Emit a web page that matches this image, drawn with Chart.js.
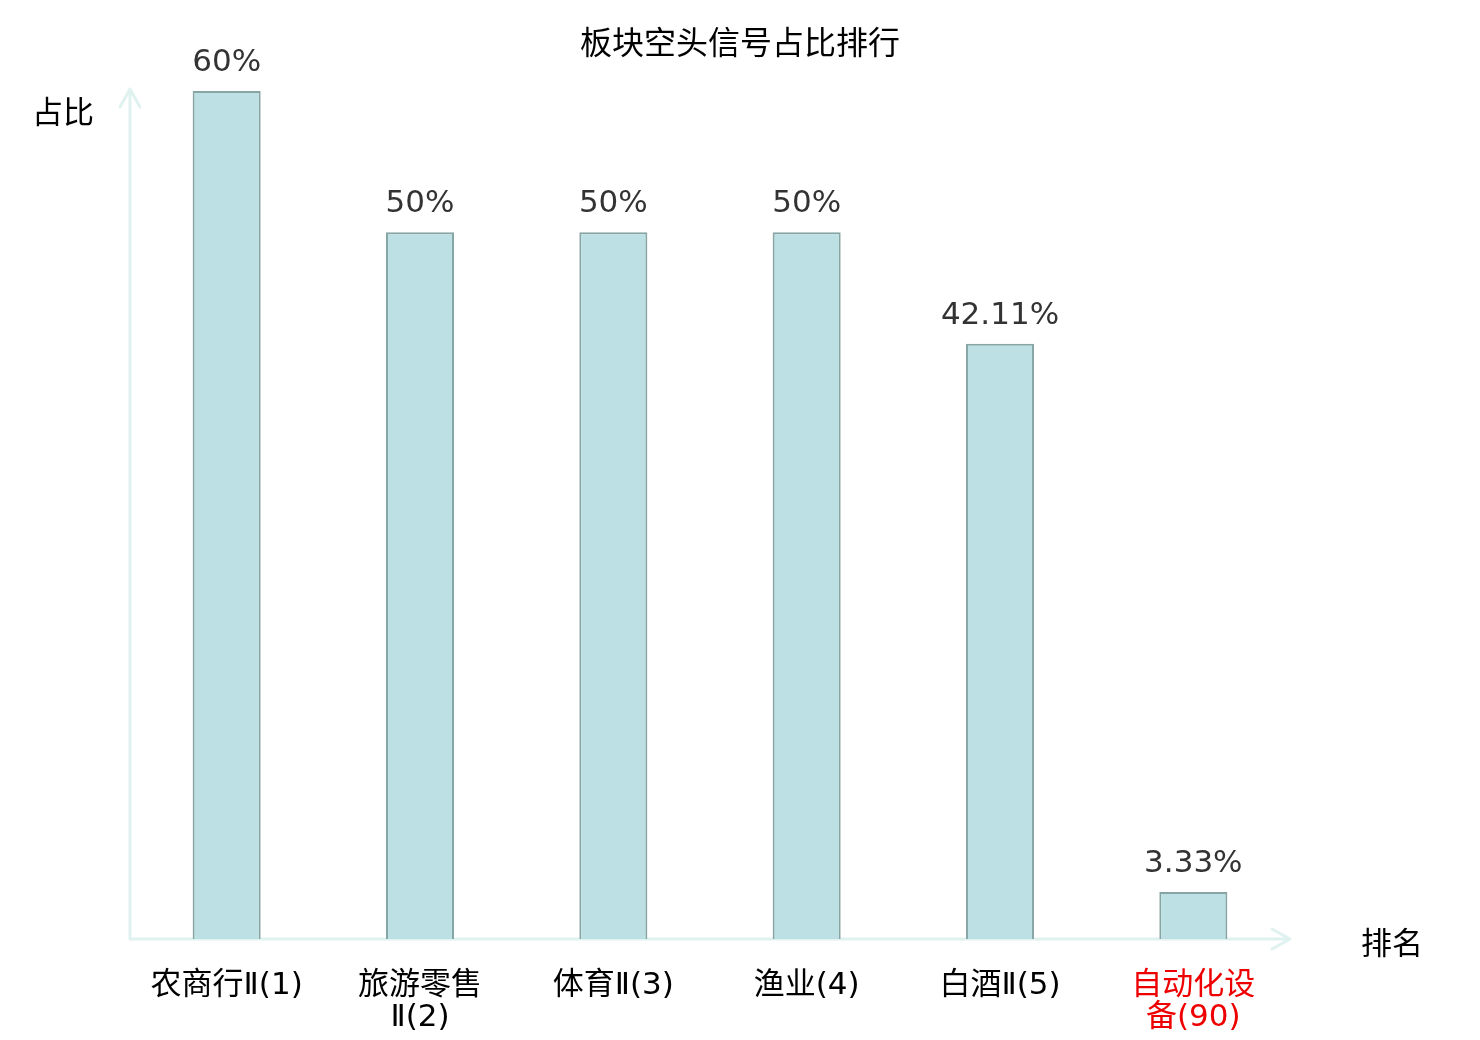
<!DOCTYPE html>
<html>
<head>
<meta charset="utf-8">
<script src="https://cdn.jsdelivr.net/npm/chart.js@4/dist/chart.umd.min.js"></script>
<style>
  html, body { margin: 0; padding: 0; background: #fff; }
  #wrap { width: 1480px; height: 1040px; position: relative; }
</style>
</head>
<body>
<div id="wrap"><canvas id="chart"></canvas></div>
<script>
// data
const chartTitle = '板块空头信号占比排行';
const yAxisName = '占比';
const xAxisName = '排名';
const categoryLines = [
  ['农商行Ⅱ(1)'],
  ['旅游零售', 'Ⅱ(2)'],
  ['体育Ⅱ(3)'],
  ['渔业(4)'],
  ['白酒Ⅱ(5)'],
  ['自动化设', '备(90)']
];
const shareValues = [60, 50, 50, 50, 42.11, 3.33];
const highlightIndex = 5;

const NUM_FONT = "'DejaVu Sans', 'Noto Sans CJK SC', sans-serif";
const CJK_FONT = "'Noto Sans CJK SC', 'DejaVu Sans', sans-serif";
const AXIS_COLOR = '#dff2ef';

const overlay = {
  id: 'overlay',
  beforeDatasetsDraw(chart) {
    const { ctx, chartArea } = chart;
    const left = chartArea.left, bottom = chartArea.bottom;
    const top = chartArea.top - 2, right = chartArea.right;
    ctx.save();
    ctx.strokeStyle = AXIS_COLOR;
    ctx.lineWidth = 3;
    ctx.lineCap = 'round';
    ctx.lineJoin = 'round';
    // y axis with arrow
    ctx.beginPath();
    ctx.moveTo(left, bottom);
    ctx.lineTo(left, top);
    ctx.moveTo(left - 10, top + 18);
    ctx.lineTo(left, top);
    ctx.lineTo(left + 10, top + 18);
    // x axis with arrow
    ctx.moveTo(left, bottom);
    ctx.lineTo(right, bottom);
    ctx.moveTo(right - 18, bottom - 10);
    ctx.lineTo(right, bottom);
    ctx.lineTo(right - 18, bottom + 10);
    ctx.stroke();
    ctx.restore();
  },
  afterDatasetsDraw(chart) {
    const { ctx, chartArea } = chart;
    const meta = chart.getDatasetMeta(0);
    ctx.save();
    ctx.font = '31px ' + NUM_FONT;
    ctx.textAlign = 'center';
    ctx.textBaseline = 'middle';
    ctx.fillStyle = '#333333';
    meta.data.forEach((bar, i) => {
      ctx.fillText(shareValues[i] + '%', bar.x, bar.y - 28);
    });
    ctx.fillStyle = '#000000';
    ctx.font = '32px ' + CJK_FONT;
    ctx.fillText(chartTitle, chart.width / 2, 42);
    ctx.font = '31px ' + CJK_FONT;
    ctx.fillText(yAxisName, 63, 111);
    ctx.fillText(xAxisName, 1392, chartArea.bottom + 3);
    ctx.restore();
  }
};

new Chart(document.getElementById('chart'), {
  type: 'bar',
  data: {
    labels: categoryLines,
    datasets: [{
      data: shareValues,
      backgroundColor: '#bce0e3',
      borderColor: '#88a5a5',
      borderWidth: 2,
      barPercentage: 0.352,
      categoryPercentage: 1
    }]
  },
  options: {
    responsive: true,
    maintainAspectRatio: false,
    devicePixelRatio: 1,
    animation: false,
    layout: { padding: { left: 130, right: 190, top: 91, bottom: 0 } },
    plugins: { legend: { display: false }, tooltip: { enabled: false }, title: { display: false } },
    scales: {
      x: {
        grid: { display: false, drawTicks: false },
        border: { display: false },
        afterFit: s => { s.height = 101; },
        ticks: {
          padding: 31,
          maxRotation: 0,
          autoSkip: false,
          font: { family: NUM_FONT, size: 31, lineHeight: 1.04 },
          color: c => (c.index === highlightIndex ? '#ee0000' : '#000000')
        }
      },
      y: {
        display: false,
        min: 0,
        max: Math.max(...shareValues)
      }
    }
  },
  plugins: [overlay]
});
</script>
</body>
</html>
